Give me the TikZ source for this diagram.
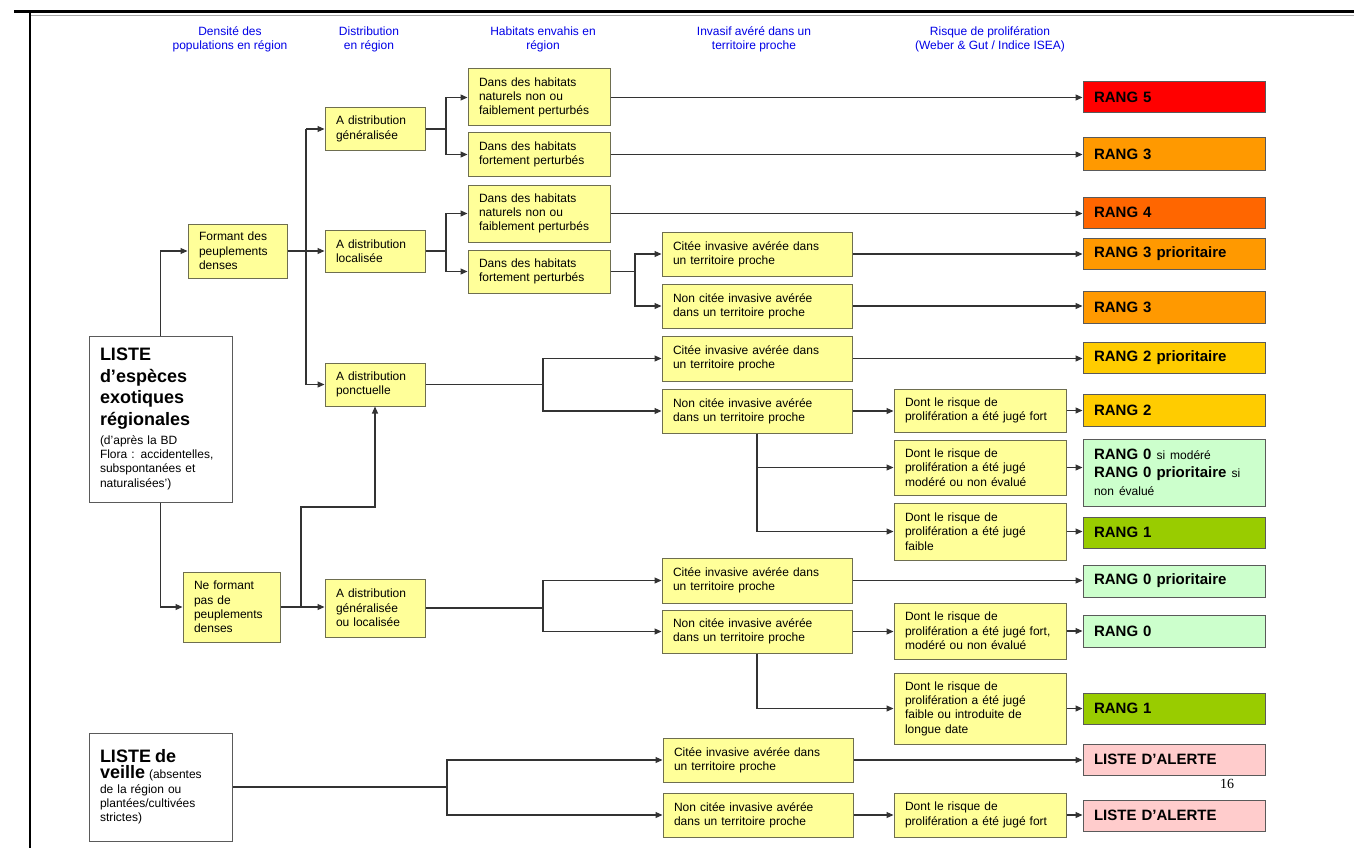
\documentclass[tikz,border=0pt]{standalone}
\usepackage{fontspec}
\setmainfont{Liberation Sans}
\newfontfamily\pagenumfont{Liberation Serif}
\usetikzlibrary{arrows.meta}
\definecolor{ybfill}{HTML}{FFFF99}
\definecolor{ybborder}{HTML}{6E6E50}
\definecolor{rborder}{HTML}{5A5A5A}
\definecolor{linec}{HTML}{333333}
\definecolor{hblue}{HTML}{0000E6}
\definecolor{cfive}{HTML}{FF0000}
\definecolor{cfour}{HTML}{FF6600}
\definecolor{cthree}{HTML}{FF9900}
\definecolor{ctwo}{HTML}{FFCC00}
\definecolor{cone}{HTML}{99CC00}
\definecolor{czero}{HTML}{CCFFCC}
\definecolor{calert}{HTML}{FFCCCC}
\begin{document}
\begin{tikzpicture}[x=1pt,y=-1pt,
  conn/.style={draw=linec, line width=1.1pt},
  arr/.style={conn, -{Triangle[length=7pt,width=6pt]}},
  yb/.style={draw=ybborder, fill=ybfill, line width=1pt, inner xsep=11pt, inner ysep=0pt,
    align=left, font=\fontsize{12}{14.3}\selectfont},
  wb/.style={draw=rborder, fill=white, line width=1pt, inner xsep=11pt, inner ysep=0pt,
    align=left, text width=121pt, font=\fontsize{12}{14.3}\selectfont},
  rb/.style={draw=rborder, line width=1pt, inner xsep=11pt, inner ysep=0pt, align=left,
    text width=160pt, minimum height=31pt, font=\bfseries\fontsize{15}{18}\selectfont},
  hd/.style={align=center, text=hblue, inner sep=0pt, font=\fontsize{12}{13.5}\selectfont}
]
\useasboundingbox (0,0) rectangle (1354,848);
% frame
\draw[line width=3pt, black] (14,12) -- (1354,12);
\draw[line width=1pt, black!35] (30,15.5) -- (1354,15.5);
\draw[line width=2.5pt, black] (30,12) -- (30,848);

% headers
\node[hd] (h1) at (230,39.5) {Densité des\\populations en région};
\node[hd] (h2) at (369,39.5) {Distribution\\en région};
\node[hd] (h3) at (543,39.5) {Habitats envahis en\\région};
\node[hd] (h4) at (754,39.5) {Invasif avéré dans un\\territoire proche};
\node[hd] (h5) at (990,39.5) {Risque de prolifération\\(Weber \& Gut / Indice ISEA)};

% left boxes
\node[wb, minimum height=166pt] (liste) at (160.5,419) {%
  \fontsize{18}{21.5}\selectfont\bfseries LISTE\\d’espèces\\exotiques\\régionales\par
  \vspace{4.5pt}\fontsize{12}{14.3}\selectfont\mdseries (d’après la BD\\Flora : accidentelles,\\subspontanées et\\naturalisées’)};
\node[wb, minimum height=108pt] (veille) at (160.5,787) {%
  {\fontsize{18}{21.5}\selectfont\bfseries LISTE de}\\[2pt]{\fontsize{18}{21.5}\selectfont\bfseries veille} (absentes\\de la région ou\\plantées/cultivées\\strictes)};

\node[yb, text width=77pt, minimum height=54pt] (formant) at (237.5,251) {Formant des\\peuplements\\denses};
\node[yb, text width=75pt, minimum height=70pt] (neform) at (231.5,607) {Ne formant\\pas de\\peuplements\\denses};

\node[yb, text width=78pt, minimum height=42pt] (gen) at (375,129) {A distribution\\généralisée};
\node[yb, text width=78pt, minimum height=42pt] (loc) at (375,251) {A distribution\\localisée};
\node[yb, text width=78pt, minimum height=43pt] (ponct) at (375,384.5) {A distribution\\ponctuelle};
\node[yb, text width=78pt, minimum height=58pt] (genloc) at (375,608) {A distribution\\généralisée\\ou localisée};

\node[yb, text width=120pt, minimum height=57pt] (hab1) at (539,97.5) {Dans des habitats\\naturels non ou\\faiblement perturbés};
\node[yb, text width=120pt, minimum height=43pt] (hab2) at (539,154.5) {Dans des habitats\\fortement perturbés};
\node[yb, text width=120pt, minimum height=57pt] (hab3) at (539,213.5) {Dans des habitats\\naturels non ou\\faiblement perturbés};
\node[yb, text width=120pt, minimum height=43pt] (hab4) at (539,271.5) {Dans des habitats\\fortement perturbés};

\node[yb, text width=168pt, minimum height=44pt] (c1) at (757,254) {Citée invasive avérée dans\\un territoire proche};
\node[yb, text width=168pt, minimum height=44pt] (n1) at (757,306) {Non citée invasive avérée\\dans un territoire proche};
\node[yb, text width=168pt, minimum height=45pt] (c2) at (757,358.5) {Citée invasive avérée dans\\un territoire proche};
\node[yb, text width=168pt, minimum height=44pt] (n2) at (757,411) {Non citée invasive avérée\\dans un territoire proche};
\node[yb, text width=168pt, minimum height=45pt] (c3) at (757,580.5) {Citée invasive avérée dans\\un territoire proche};
\node[yb, text width=168pt, minimum height=43pt] (n3) at (757,631.5) {Non citée invasive avérée\\dans un territoire proche};
\node[yb, text width=168pt, minimum height=44pt] (c4) at (758,760) {Citée invasive avérée dans\\un territoire proche};
\node[yb, text width=168pt, minimum height=44pt] (n4) at (758,815) {Non citée invasive avérée\\dans un territoire proche};

\node[yb, text width=150pt, minimum height=43pt] (d1) at (980,410.5) {Dont le risque de\\prolifération a été jugé fort};
\node[yb, text width=150pt, minimum height=55pt] (d2) at (980,467.5) {Dont le risque de\\prolifération a été jugé\\modéré ou non évalué};
\node[yb, text width=150pt, minimum height=57pt] (d3) at (980,531.5) {Dont le risque de\\prolifération a été jugé\\faible};
\node[yb, text width=150pt, minimum height=56pt] (d4) at (980,631) {Dont le risque de\\prolifération a été jugé fort,\\modéré ou non évalué};
\node[yb, text width=150pt, minimum height=71pt] (d5) at (980,708.5) {Dont le risque de\\prolifération a été jugé\\faible ou introduite de\\longue date};
\node[yb, text width=150pt, minimum height=44pt] (d6) at (980,815) {Dont le risque de\\prolifération a été jugé fort};

% rank boxes
\node[rb, fill=cfive] (r5) at (1174,97.5) {RANG 5};
\node[rb, fill=cthree, minimum height=32pt] (r3a) at (1174,154) {RANG 3};
\node[rb, fill=cfour] (r4) at (1174,212.5) {RANG 4};
\node[rb, fill=cthree] (r3p) at (1174,253.5) {RANG 3 prioritaire};
\node[rb, fill=cthree, minimum height=32pt] (r3b) at (1174,307) {RANG 3};
\node[rb, fill=ctwo] (r2p) at (1174,357.5) {RANG 2 prioritaire};
\node[rb, fill=ctwo, minimum height=32pt] (r2) at (1174,410) {RANG 2};
\node[rb, fill=czero, minimum height=67pt] (r0a) at (1174,472.5) {RANG 0 {\mdseries\fontsize{12}{14.3}\selectfont si modéré}\\RANG 0 prioritaire {\mdseries\fontsize{12}{14.3}\selectfont si}\\{\mdseries\fontsize{12}{14.3}\selectfont non évalué}};
\node[rb, fill=cone] (r1a) at (1174,532.5) {RANG 1};
\node[rb, fill=czero, minimum height=32pt] (r0p) at (1174,581) {RANG 0 prioritaire};
\node[rb, fill=czero, minimum height=32pt] (r0) at (1174,631) {RANG 0};
\node[rb, fill=cone] (r1b) at (1174,708.5) {RANG 1};
\node[rb, fill=calert] (al1) at (1174,759.5) {LISTE D’ALERTE};
\node[rb, fill=calert] (al2) at (1174,815.5) {LISTE D’ALERTE};

\node[font=\pagenumfont\fontsize{14}{16}\selectfont, inner sep=0pt] (pg) at (1227,784) {16};

% connectors
\draw[arr] (liste.north) |- (formant.west);
\draw[arr] (liste.south) |- (neform.west);

\coordinate (jF) at (306,251);
\draw[conn] (formant.east) -- (jF);
\draw[conn] (jF |- gen.west) -- (jF |- ponct.west);
\draw[arr] (jF |- gen.west) -- (gen.west);
\draw[arr] (jF) -- (loc.west);
\draw[arr] (jF |- ponct.west) -- (ponct.west);

\coordinate (jN) at (301,607);
\coordinate (kN) at (301,507);
\draw[arr] (neform.east) -- (neform.east -| genloc.west);
\draw[arr] (jN) -- (kN) -| (ponct.south);

\coordinate (jG) at (446,129);
\draw[conn] (gen.east) -- (jG);
\draw[arr] (jG) |- (hab1.west);
\draw[arr] (jG) |- (hab2.west);
\coordinate (jL) at (446,251);
\draw[conn] (loc.east) -- (jL);
\draw[arr] (jL) |- (hab3.west);
\draw[arr] (jL) |- (hab4.west);

\draw[arr] (hab1.east) -- (hab1.east -| r5.west);
\draw[arr] (hab2.east) -- (hab2.east -| r3a.west);
\draw[arr] (hab3.east) -- (hab3.east -| r4.west);

\coordinate (jH) at (635,271.5);
\draw[conn] (hab4.east) -- (jH);
\draw[arr] (jH) |- (c1.west);
\draw[arr] (jH) |- (n1.west);
\draw[arr] (c1.east) -- (c1.east -| r3p.west);
\draw[arr] (n1.east) -- (n1.east -| r3b.west);

\coordinate (jP) at (543,384.5);
\draw[conn] (ponct.east) -- (jP);
\draw[arr] (jP) |- (c2.west);
\draw[arr] (jP) |- (n2.west);
\draw[arr] (c2.east) -- (c2.east -| r2p.west);
\draw[arr] (n2.east) -- (n2.east -| d1.west);
\draw[arr] (d1.east) -- (d1.east -| r2.west);
\draw[arr] (n2.south) |- (d2.west);
\draw[arr] (n2.south) |- (d3.west);
\draw[arr] (d2.east) -- (d2.east -| r0a.west);
\draw[arr] (d3.east) -- (d3.east -| r1a.west);

\coordinate (jGL) at (543,608);
\draw[conn] (genloc.east) -- (jGL);
\draw[arr] (jGL) |- (c3.west);
\draw[arr] (jGL) |- (n3.west);
\draw[arr] (c3.east) -- (c3.east -| r0p.west);
\draw[arr] (n3.east) -- (n3.east -| d4.west);
\draw[arr] (d4.east) -- (d4.east -| r0.west);
\draw[arr] (n3.south) |- (d5.west);
\draw[arr] (d5.east) -- (d5.east -| r1b.west);

\coordinate (jV) at (447,787);
\draw[conn] (veille.east) -- (jV);
\draw[arr] (jV) |- (c4.west);
\draw[arr] (jV) |- (n4.west);
\draw[arr] (c4.east) -- (c4.east -| al1.west);
\draw[arr] (n4.east) -- (n4.east -| d6.west);
\draw[arr] (d6.east) -- (d6.east -| al2.west);
\end{tikzpicture}
\end{document}
